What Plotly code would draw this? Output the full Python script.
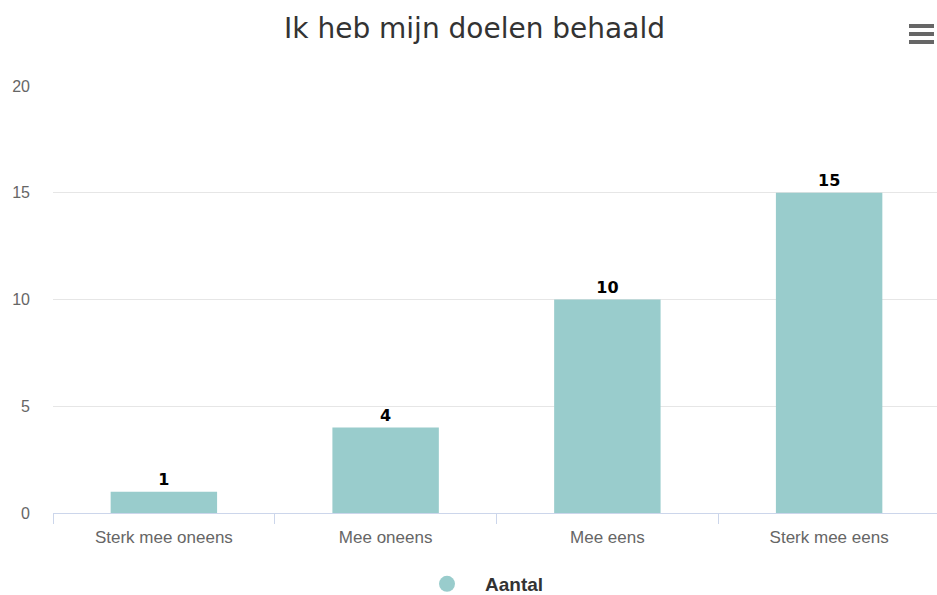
import plotly.graph_objects as go

# Survey answers and the number of respondents per answer
categories = ["Sterk mee oneens", "Mee oneens", "Mee eens", "Sterk mee eens"]
counts = [1, 4, 10, 15]
series_name = "Aantal"
y_ticks = [0, 5, 10, 15, 20]

BAR_COLOR = "#99CCCC"
W, H = 937, 595
M_L, M_R, M_T, M_B = 53, 0, 86, 82
plot_w = W - M_L - M_R
plot_h = H - M_T - M_B

fig = go.Figure()

fig.add_trace(go.Bar(
    x=categories,
    y=counts,
    name=series_name,
    marker=dict(color=BAR_COLOR, line=dict(width=0)),
    text=[str(v) for v in counts],
    textposition="outside",
    textfont=dict(family="DejaVu Sans", size=16, color="#000000", weight="bold"),
    cliponaxis=False,
    showlegend=False,
))

# Round legend symbol for the series
fig.add_trace(go.Scatter(
    x=[None], y=[None],
    mode="markers",
    name=series_name,
    marker=dict(color=BAR_COLOR, size=20, symbol="circle"),
    showlegend=True,
))

# Context-menu icon (three bars) in the top-right corner
def px_x(px):
    return (px - M_L) / plot_w

def px_y(py):
    return (H - M_B - py) / plot_h

shapes = []
for py in (26, 34, 42):
    shapes.append(dict(
        type="line", xref="paper", yref="paper",
        x0=px_x(909), x1=px_x(934), y0=px_y(py), y1=px_y(py),
        line=dict(color="#666666", width=4),
    ))

# The last category runs slightly past the right edge of the page
x_range = [-0.5, len(categories) - 0.5 - 0.0135]

fig.update_layout(
    width=W, height=H,
    margin=dict(l=M_L, r=M_R, t=M_T, b=M_B, autoexpand=False),
    paper_bgcolor="#ffffff",
    plot_bgcolor="#ffffff",
    bargap=0.52,
    title=dict(
        text="Ik heb mijn doelen behaald",
        xref="container", x=474.5 / W, xanchor="center",
        yref="container", y=1 - 28 / H, yanchor="middle",
        font=dict(family="DejaVu Sans", size=28, color="#333333"),
    ),
    xaxis=dict(
        type="category",
        range=x_range,
        showgrid=False,
        showline=True, linecolor="#ccd6eb", linewidth=1,
        ticks="outside", tickson="boundaries", ticklen=10,
        tickcolor="#ccd6eb", tickwidth=1,
        ticklabelstandoff=9,
        tickfont=dict(family="Liberation Sans", size=17, color="#666666"),
        automargin=False,
        fixedrange=True,
    ),
    yaxis=dict(
        range=[0, 20],
        tickvals=y_ticks,
        showgrid=True, gridcolor="#e6e6e6", gridwidth=1,
        zeroline=False,
        showline=False,
        ticks="",
        ticklabelstandoff=22,
        tickfont=dict(family="Liberation Sans", size=16, color="#666666"),
        automargin=False,
        fixedrange=True,
    ),
    legend=dict(
        orientation="h",
        xref="container", x=479 / W, xanchor="center",
        y=px_y(584), yanchor="middle",
        font=dict(family="Liberation Sans", size=19, color="#333333", weight="bold"),
        itemwidth=66,
        bgcolor="rgba(0,0,0,0)",
    ),
    shapes=shapes,
    showlegend=True,
)

fig.write_html("out.html", config={"displayModeBar": False})
